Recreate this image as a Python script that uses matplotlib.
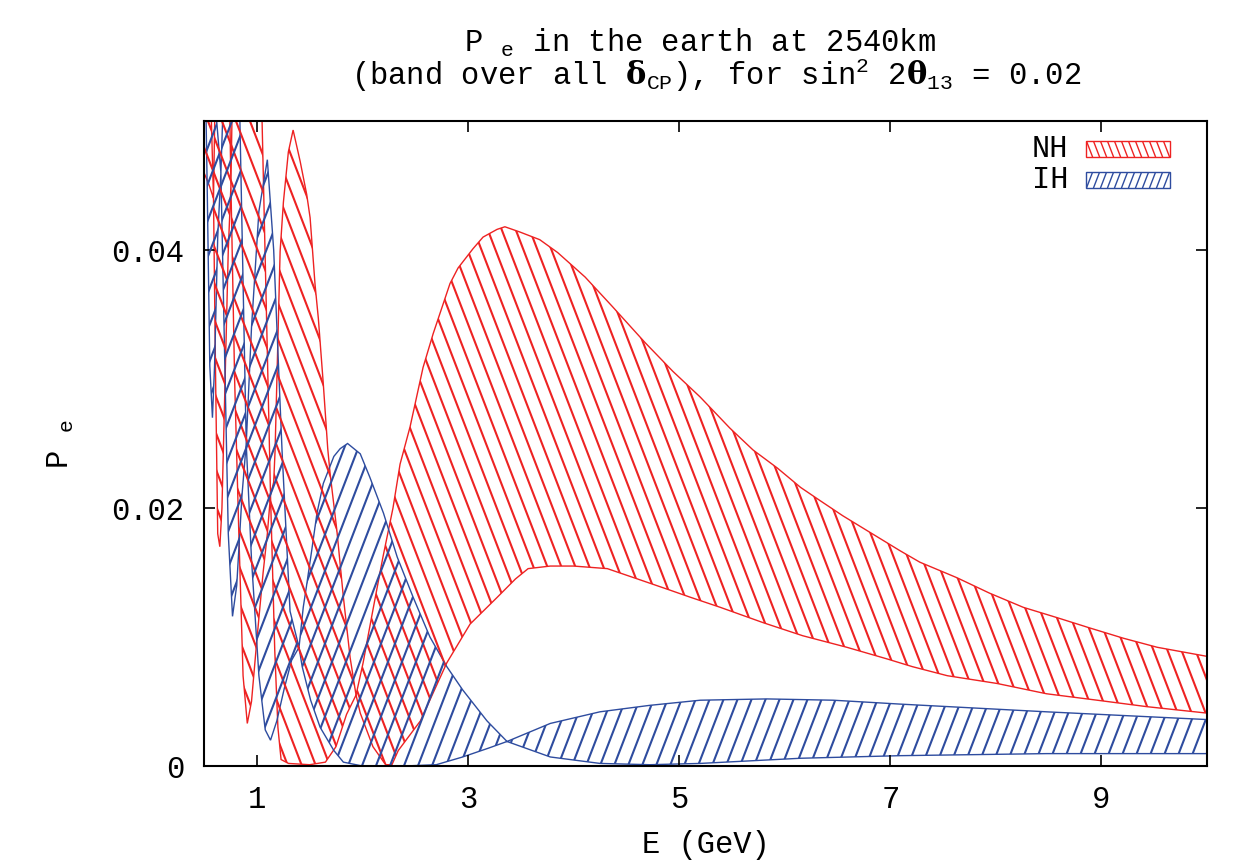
import numpy as np
import matplotlib
matplotlib.use("Agg")
import matplotlib.pyplot as plt
from matplotlib.collections import LineCollection
from matplotlib.patches import Rectangle

plt.rcParams['font.family'] = ['Liberation Mono', 'DejaVu Sans']
plt.rcParams['mathtext.fontset'] = 'custom'
plt.rcParams['mathtext.rm'] = 'Liberation Mono'
plt.rcParams['mathtext.it'] = 'Liberation Mono'
plt.rcParams['mathtext.bf'] = 'DejaVu Serif:bold'

# band edges (max / min over delta_CP), E in GeV
nh_up_E = [0.50, 0.55, 0.59, 0.62, 0.68, 0.73, 0.755, 0.78, 0.86, 0.96, 1.05, 1.10, 1.13, 1.16,
           1.173, 1.189, 1.205, 1.221, 1.252, 1.299, 1.344, 1.410, 1.473, 1.505, 1.552, 1.583,
           1.631, 1.672, 1.694, 1.758, 1.820, 1.884, 1.94, 2.007, 2.10, 2.195, 2.29, 2.357,
           2.452, 2.575, 2.67, 2.83, 2.906, 3.048, 3.143, 3.276, 3.35, 3.49, 3.68, 3.85, 4.11,
           4.37, 4.68, 4.94, 5.20, 5.48, 5.70, 5.93, 6.15, 6.33, 6.55, 6.73, 6.93, 7.09, 7.28,
           7.63, 7.94, 8.26, 8.58, 8.89, 9.21, 9.53, 10.0]
nh_up_P = [0.070, 0.056, 0.044, 0.060, 0.072, 0.058, 0.045, 0.058, 0.075, 0.070, 0.050, 0.032,
           0.021, 0.022, 0.0244, 0.0295, 0.0347, 0.0399, 0.0437, 0.0476, 0.0493, 0.0469, 0.0443,
           0.0425, 0.0373, 0.0347, 0.0295, 0.0246, 0.0227, 0.0183, 0.0131, 0.0084, 0.0055,
           0.0080, 0.0121, 0.0162, 0.0200, 0.0234, 0.0263, 0.0309, 0.0335, 0.0374, 0.0386,
           0.0401, 0.0410, 0.0416, 0.0418, 0.0414, 0.0408, 0.0398, 0.0379, 0.0356, 0.0328,
           0.0306, 0.0286, 0.0262, 0.0245, 0.0231, 0.0216, 0.0206, 0.0194, 0.0185, 0.0175,
           0.0167, 0.0158, 0.0146, 0.0134, 0.0123, 0.0115, 0.0107, 0.0099, 0.0092, 0.0085]

nh_lo_E = [0.50, 0.55, 0.59, 0.61, 0.63, 0.65, 0.67, 0.70, 0.73, 0.755, 0.79, 0.83, 0.87, 0.91,
           0.95, 1.00, 1.06, 1.10, 1.13, 1.15, 1.17, 1.20, 1.23, 1.30, 1.50, 1.65, 1.75, 1.85,
           1.94, 1.98, 2.10, 2.22, 2.28, 2.34, 2.55, 2.80, 3.02, 3.28, 3.45, 3.57, 3.78, 4.00,
           4.32, 4.57, 4.89, 5.10, 5.39, 5.80, 6.17, 6.59, 6.97, 7.21, 7.54, 8.01, 8.48, 8.96,
           9.43, 10.0]
nh_lo_P = [0.046, 0.045, 0.044, 0.030, 0.018, 0.017, 0.020, 0.030, 0.040, 0.045, 0.030, 0.018,
           0.007, 0.0033, 0.005, 0.0097, 0.0150, 0.0180, 0.021, 0.015, 0.009, 0.003, 0.0005,
           0.0002, 0.0001, 0.0003, 0.0015, 0.0040, 0.0055, 0.0041, 0.0015, 0.0001, 0.0001,
           0.0012, 0.0035, 0.0080, 0.0110, 0.0131, 0.0145, 0.0153, 0.0155, 0.0155, 0.0153,
           0.0146, 0.0137, 0.0131, 0.0123, 0.0111, 0.0101, 0.0092, 0.0083, 0.0077, 0.0070,
           0.0064, 0.0056, 0.0051, 0.0046, 0.0041]

ih_up_E = [0.50, 0.56, 0.62, 0.66, 0.70, 0.76, 0.84, 0.90, 0.95, 1.02, 1.10, 1.16, 1.24, 1.315,
           1.40, 1.44, 1.47, 1.52, 1.57, 1.63, 1.73, 1.79, 1.86, 1.98, 2.07, 2.20, 2.33, 2.48,
           2.64, 2.80, 2.95, 3.18, 3.37, 3.78, 4.25, 4.72, 5.20, 5.83, 6.46, 7.09, 8.48, 10.0]
ih_up_P = [0.080, 0.062, 0.050, 0.046, 0.056, 0.070, 0.050, 0.025, 0.034, 0.043, 0.047, 0.040,
           0.0243, 0.0120, 0.0092, 0.0123, 0.0139, 0.0167, 0.0196, 0.0219, 0.0240, 0.0246,
           0.0250, 0.0242, 0.0224, 0.0196, 0.0162, 0.0131, 0.0100, 0.0077, 0.0059, 0.0035,
           0.0019, 0.0033, 0.0042, 0.0047, 0.0051, 0.0052, 0.0051, 0.0048, 0.0042, 0.0036]

ih_lo_E = [0.50, 0.53, 0.555, 0.58, 0.60, 0.63, 0.66, 0.69, 0.73, 0.77, 0.81, 0.86, 0.90, 0.95,
           1.02, 1.08, 1.13, 1.19, 1.26, 1.33, 1.40, 1.43, 1.51, 1.60, 1.73, 1.82, 2.00, 2.40,
           2.70, 2.95, 3.20, 3.37, 3.78, 4.25, 4.72, 5.20, 6.15, 7.09, 8.48, 10.0]
ih_lo_P = [0.060, 0.045, 0.031, 0.027, 0.031, 0.041, 0.046, 0.034, 0.018, 0.0116, 0.014, 0.021,
           0.025, 0.016, 0.007, 0.0028, 0.0020, 0.0035, 0.0060, 0.0082, 0.0092, 0.0077, 0.0051,
           0.0030, 0.0012, 0.0003, 0.0, 0.0, 0.0001, 0.0007, 0.0014, 0.0019, 0.0007, 0.0002,
           0.0001, 0.0002, 0.0006, 0.0008, 0.00096, 0.00096]

red = '#ee2222'
blue = '#2e4c9f'
fs = 22

fig = plt.figure(figsize=(12.52, 8.64), dpi=100)
ax = fig.add_axes([204 / 1252, 98 / 864, 1003 / 1252, 645 / 864])
W, H = 1003.0, 645.0   # axes size in pixels


def hatch_lines(x0, x1, y0, y1, step, slope, rising):
    # parallel lines (pixel slope) covering the box, in axes coordinates
    run = (y1 - y0) * H / slope / W
    segs = []
    c = x0 - run
    while c < x1 + run:
        if rising:
            segs.append([(c, y0), (c + run, y1)])
        else:
            segs.append([(c, y1), (c + run, y0)])
        c += step / W
    return segs


def band(e_up, p_up, e_lo, p_lo, color, rising):
    xs = np.concatenate([e_up, e_lo[::-1]])
    ys = np.concatenate([p_up, p_lo[::-1]])
    poly = ax.fill(xs, ys, facecolor='none', edgecolor=color, lw=1.0)[0]
    lc = LineCollection(hatch_lines(0, 1, 0, 1, 14, 2.6, rising), colors=color,
                        linewidths=1.5, transform=ax.transAxes)
    ax.add_collection(lc)
    lc.set_clip_path(poly)


band(np.array(nh_up_E), np.array(nh_up_P), np.array(nh_lo_E), np.array(nh_lo_P), red, False)
band(np.array(ih_up_E), np.array(ih_up_P), np.array(ih_lo_E), np.array(ih_lo_P), blue, True)

ax.set_xlim(0.5, 10)
ax.set_ylim(0, 0.05)
ax.set_xticks([1, 3, 5, 7, 9])
ax.set_yticks([0, 0.02, 0.04])
ax.set_yticklabels(['0', '0.02', '0.04'])
ax.tick_params(direction='in', length=8, width=1.2, top=True, right=True,
               labelsize=fs, pad=14)
for s in ax.spines.values():
    s.set_linewidth(1.5)

ax.set_xlabel('E (GeV)', fontsize=fs)
ax.xaxis.set_label_coords(0.5, -0.1)
ax.set_ylabel(r'P $_{\mathrm{e}}$', fontsize=fs)
ax.yaxis.set_label_coords(-0.128, 0.5)

# key
for i, (name, color, rising) in enumerate([('NH', red, False), ('IH', blue, True)]):
    yb = 0.944 - i * 0.048
    rect = Rectangle((0.879, yb), 0.084, 0.025, transform=ax.transAxes,
                     facecolor='none', edgecolor=color, lw=1.0)
    ax.add_patch(rect)
    lc = LineCollection(hatch_lines(0.879, 0.963, yb, yb + 0.025, 7, 2.6, rising),
                        colors=color, linewidths=1.0, transform=ax.transAxes)
    ax.add_collection(lc)
    lc.set_clip_path(rect)
    ax.text(0.862, yb + 0.0125, name, transform=ax.transAxes, fontsize=fs,
            ha='right', va='center')

fig.text(0.559, 1 - 52 / 864, r'P $_{\mathrm{e}}$ in the earth at 2540km',
         fontsize=fs, ha='center', va='baseline')
fig.text(0.572, 1 - 85 / 864,
         r'(band over all $\mathbf{\delta}_{\mathrm{CP}}$), for sin$^{2}$ 2$\mathbf{\theta}_{\mathrm{13}}$ = 0.02',
         fontsize=fs, ha='center', va='baseline')

fig.savefig('out.png', dpi=100)
